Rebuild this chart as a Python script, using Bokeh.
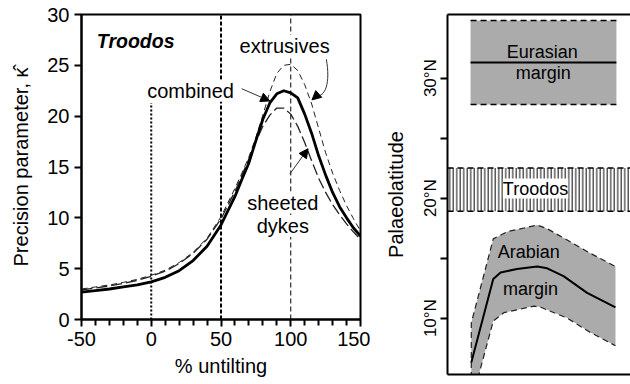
from bokeh.plotting import figure
from bokeh.models import Label, Arrow, NormalHead, FixedTicker, LinearAxis
from bokeh.layouts import row, column
from bokeh.embed import file_html
from bokeh.resources import INLINE

FONT = "Liberation Sans"

# ---- left panel data: precision parameter vs % untilting ----
untilt = [-50, -40, -30, -20, -10, 0, 10, 20, 30, 40, 50, 60, 65, 70, 75, 80, 85, 90, 95,
          100, 105, 110, 115, 120, 125, 130, 135, 140, 145, 150]
combined = [2.7, 2.85, 3.0, 3.2, 3.4, 3.7, 4.15, 4.8, 5.8, 7.2, 9.3, 12.1, 13.8, 15.4, 17.6,
            19.7, 21.3, 22.2, 22.5, 22.3, 21.8, 20.2, 18.3, 16.1, 14.2, 12.5, 11.1, 10.0, 9.0, 8.2]
extrusives = [3.0, 3.2, 3.4, 3.65, 3.95, 4.35, 4.85, 5.6, 6.6, 8.0, 10.1, 12.9, 14.4, 16.0, 17.9,
              20.1, 22.4, 24.2, 25.0, 25.1, 24.5, 23.1, 21.2, 18.8, 16.4, 14.4, 12.7, 11.2, 9.9, 8.7]
sheeted = [2.9, 3.1, 3.3, 3.55, 3.85, 4.25, 4.75, 5.5, 6.5, 7.9, 9.9, 12.6, 14.2, 15.8, 17.5,
           19.0, 20.1, 20.8, 20.8, 20.2, 19.0, 17.4, 15.6, 13.9, 12.5, 11.3, 10.3, 9.4, 8.6, 7.9]
ref_x = [0, 50, 100]
ref_top = [21.3, 30, 30]
x_ticks = [-50, 0, 50, 100, 150]
x_tick_labels = {-50: "-50", 0: "0", 50: "50", 100: "100", 150: "150"}
x_minor = [-40, -30, -20, -10, 10, 20, 30, 40, 60, 70, 80, 90, 110, 120, 130, 140]
y_ticks = [0, 5, 10, 15, 20, 25, 30]

# ---- right panel data: palaeolatitude ----
lat_ticks = [10, 15, 20, 25, 30]
lat_labels = {10: "10°N", 15: "", 20: "20°N", 25: "", 30: "30°N"}
eur_x = [12.6, 92.3]
eur_lo, eur_mid, eur_hi = 27.8, 31.3, 34.8
tro_lo, tro_hi = 18.9, 22.5
ara_mid_x = [13, 25, 29, 38, 49, 54.5, 63.4, 76.3, 91.8]
ara_mid = [6.3, 13.25, 13.8, 14.1, 14.3, 14.15, 13.5, 12.1, 10.9]
ara_up_x = [13, 13, 25, 32.6, 49, 54.5, 65.4, 78.1, 91.8]
ara_up = [5.0, 9.6, 16.6, 17.2, 17.75, 17.45, 16.5, 15.4, 14.3]
ara_lo_x = [16.6, 25, 30.8, 47.3, 51, 65.4, 78.1, 91.8]
ara_lo = [5.0, 9.75, 10.45, 11.0, 10.9, 10.0, 8.8, 7.7]

X_END = 100

# ================= LEFT =================
p1 = figure(width=370, height=380, x_range=(-50, 150), y_range=(0, 30),
            output_backend="svg", toolbar_location=None,
            min_border_left=81, min_border_right=10, min_border_top=14, min_border_bottom=61)
p1.grid.visible = False
p1.outline_line_color = "black"
p1.outline_line_width = 2
p1.background_fill_color = "white"

for ax in (p1.xaxis[0], p1.yaxis[0]):
    ax.axis_line_width = 2
    ax.major_tick_line_width = 2
    ax.minor_tick_line_width = 2
    ax.major_tick_out = 7
    ax.major_tick_in = 0
    ax.minor_tick_out = 6
    ax.minor_tick_in = 0
    ax.major_label_text_font = FONT
    ax.major_label_text_font_size = "20px"
    ax.major_label_text_color = "black"
    ax.axis_label_text_font = FONT
    ax.axis_label_text_font_size = "20px"
    ax.axis_label_text_font_style = "normal"
    ax.axis_label_text_color = "black"

p1.xaxis.ticker = FixedTicker(ticks=x_ticks, minor_ticks=x_minor)
p1.xaxis.major_label_overrides = x_tick_labels
p1.yaxis.ticker = FixedTicker(ticks=y_ticks, minor_ticks=[])
p1.xaxis.axis_label = "% untilting"
p1.yaxis.axis_label = "Precision parameter, \u03ba\u0302"
p1.yaxis.axis_label_standoff = 12
p1.xaxis.axis_label_standoff = 6

# reference lines
p1.line([ref_x[0], ref_x[0]], [0, ref_top[0]], line_color="black", line_width=2, line_dash="2 2")
p1.line([ref_x[1], ref_x[1]], [0, ref_top[1]], line_color="black", line_width=2, line_dash="4 2")
p1.line([ref_x[2], ref_x[2]], [0, ref_top[2]], line_color="black", line_width=1, line_dash="5 3")

# curves
p1.line(untilt, extrusives, line_color="#222222", line_width=1, line_dash="6 4")
p1.line(untilt, sheeted, line_color="#222222", line_width=1.3, line_dash="11 4")
p1.line(untilt, combined, line_color="black", line_width=2.8, line_join="round")

# annotations
def lab(p, x, y, text, size="20px", style="normal", bg="white", align="center"):
    p.add_layout(Label(x=x, y=y, text=text, text_align=align, text_baseline="middle",
                       text_font=FONT, text_font_size=size, text_font_style=style,
                       text_color="black", background_fill_color=bg))

lab(p1, -39, 27.4, "Troodos", size="19.5px", style="bold italic", bg=None, align="left")
lab(p1, 28.2, 22.5, "combined")
lab(p1, 95.6, 26.9, "extrusives")
lab(p1, 94.3, 11.5, "sheeted")
lab(p1, 94.3, 9.2, "dykes")

p1.add_layout(Arrow(end=NormalHead(size=9, fill_color="black", line_color="black", line_width=1),
                    x_start=64.8, y_start=22.7, x_end=85.0, y_end=21.5,
                    line_color="#333333", line_width=1))
p1.add_layout(Arrow(end=NormalHead(size=9, fill_color="black", line_color="black", line_width=1),
                    x_start=99.3, y_start=14.3, x_end=112.4, y_end=16.8,
                    line_color="#333333", line_width=1))
p1.bezier(x0=[125.5], y0=[25.6], x1=[117.5], y1=[22.0], cx0=[128.5], cy0=[23.3],
          cx1=[125.0], cy1=[21.8], line_color="#333333", line_width=1)
p1.add_layout(Arrow(end=NormalHead(size=9, fill_color="black", line_color="black", line_width=1),
                    x_start=118.5, y_start=22.0, x_end=115.2, y_end=21.6,
                    line_color="#333333", line_width=1))

# ================= RIGHT =================
p2 = figure(width=260, height=380, x_range=(0, X_END), y_range=(5.3, 35.3),
            output_backend="svg", toolbar_location=None,
            min_border_left=77, min_border_right=0, min_border_top=14, min_border_bottom=6)
p2.grid.visible = False
p2.outline_line_color = None
p2.background_fill_color = "white"

ya = p2.yaxis[0]
ya.ticker = FixedTicker(ticks=lat_ticks, minor_ticks=[])
ya.major_label_overrides = lat_labels
ya.major_label_orientation = "vertical"
ya.axis_line_width = 2
ya.major_tick_line_width = 2
ya.major_tick_out = 7
ya.major_tick_in = 0
ya.minor_tick_line_color = None
ya.major_label_text_font = FONT
ya.major_label_text_font_size = "17px"
ya.major_label_text_color = "black"
ya.major_label_standoff = 0
ya.axis_label = "Palaeolatitude"
ya.axis_label_text_font = FONT
ya.axis_label_text_font_size = "20px"
ya.axis_label_text_font_style = "normal"
ya.axis_label_text_color = "black"
ya.axis_label_standoff = 12

xa = p2.xaxis[0]
xa.ticker = FixedTicker(ticks=[], minor_ticks=[])
xa.axis_line_width = 2
xa.major_tick_line_color = None
xa.minor_tick_line_color = None
xa.major_tick_out = 0
xa.major_label_standoff = 0
xa.major_label_text_font_size = "0px"
top_ax = LinearAxis(ticker=FixedTicker(ticks=[], minor_ticks=[]), axis_line_width=2,
                    major_tick_line_color=None, minor_tick_line_color=None,
                    major_tick_out=0, major_label_standoff=0,
                    major_label_text_font_size="0px")
p2.add_layout(top_ax, "above")

GRAY = "#ababab"
# Eurasian margin box
p2.quad(left=[eur_x[0]], right=[eur_x[1]], bottom=[eur_lo], top=[eur_hi],
        fill_color=GRAY, line_color=None)
p2.line(eur_x, [eur_hi, eur_hi], line_color="black", line_width=1.5, line_dash="6 4")
p2.line(eur_x, [eur_lo, eur_lo], line_color="black", line_width=1.5, line_dash="6 4")
p2.line(eur_x, [eur_mid, eur_mid], line_color="black", line_width=1.8)

# Troodos band
p2.quad(left=[0], right=[X_END], bottom=[tro_lo], top=[tro_hi], fill_color="white",
        line_color=None, hatch_pattern="vertical_line", hatch_scale=3.5,
        hatch_weight=1.2, hatch_color="#333333")
p2.line([0, X_END], [tro_hi, tro_hi], line_color="black", line_width=1.5, line_dash="6 4")
p2.line([0, X_END], [tro_lo, tro_lo], line_color="black", line_width=1.5, line_dash="6 4")

# Arabian margin envelope
p2.patch(ara_up_x + ara_lo_x[::-1], ara_up + ara_lo[::-1], fill_color=GRAY, line_color=None)
p2.line(ara_up_x, ara_up, line_color="#222222", line_width=1.2, line_dash="6 4")
p2.line(ara_lo_x, ara_lo, line_color="#222222", line_width=1.2, line_dash="6 4")
p2.line(ara_mid_x, ara_mid, line_color="black", line_width=2)

lab(p2, 51.8, 32.15, "Eurasian", size="18px", bg=None)
lab(p2, 52.3, 30.4, "margin", size="18px", bg=None)
lab(p2, 48.1, 20.8, "Troodos", size="18px", bg="white")
lab(p2, 44.4, 15.5, "Arabian", size="18px", bg=None)
lab(p2, 45.4, 12.4, "margin", size="18px", bg=None)

layout = row(p1, column(p2))
open("out.html", "w").write(file_html(layout, INLINE))
